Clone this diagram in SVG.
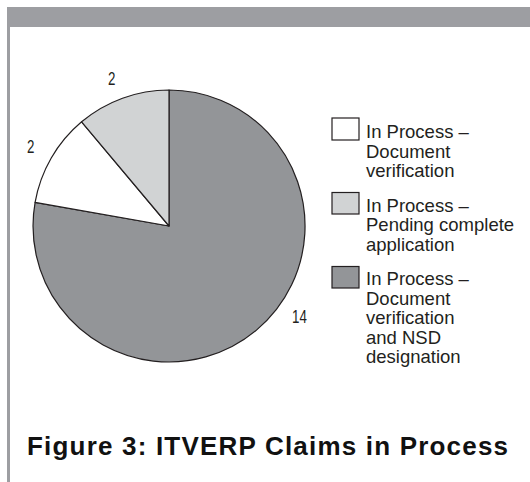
<svg xmlns="http://www.w3.org/2000/svg" width="530" height="482" viewBox="0 0 530 482">
  <style>
    .frame { fill: #9d9ea2; }
    .slice { stroke: #231f20; stroke-width: 1.2; stroke-linejoin: round; }
    .dark { fill: #939598; }
    .light { fill: #d1d3d4; }
    .white { fill: #ffffff; }
    .swatch { stroke: #231f20; stroke-width: 1.2; }
    .num { font-family: "Liberation Sans", Arial, sans-serif; font-size: 18.5px; fill: #231f20; }
    .leg { font-family: "Liberation Sans", Arial, sans-serif; font-size: 18.5px; fill: #231f20; }
    .title { font-family: "Liberation Sans", Arial, sans-serif; font-size: 26px; font-weight: bold; fill: #111111; }
  </style>
  <rect width="530" height="482" fill="#ffffff"/>

  <!-- page frame: heading band and left rule -->
  <rect class="frame" x="7" y="7" width="523" height="20"/>
  <rect class="frame" x="7" y="27" width="3" height="455" fill="#a7a9ac"/>

  <!-- pie chart: 14 / 2 / 2, starting at 12 o'clock, clockwise -->
  <g id="pie">
    <path class="slice dark" d="M169,226 L169,90 A136,136 0 1 1 35.1,202.4 Z"/>
    <path class="slice white" d="M169,226 L35.1,202.4 A136,136 0 0 1 81.6,121.8 Z"/>
    <path class="slice light" d="M169,226 L81.6,121.8 A136,136 0 0 1 169,90 Z"/>
  </g>

  <g id="values">
    <text class="num" transform="translate(108,85) scale(0.72,1)">2</text>
    <text class="num" transform="translate(27,152.5) scale(0.72,1)">2</text>
    <text class="num" transform="translate(292,322.5) scale(0.72,1)">14</text>
  </g>

  <g id="legend-verification">
    <rect class="swatch white" x="332" y="118" width="27" height="22"/>
    <text class="leg" x="366" y="138">In Process –</text>
    <text class="leg" x="366" y="157.5">Document</text>
    <text class="leg" x="366" y="177">verification</text>
  </g>

  <g id="legend-pending">
    <rect class="swatch light" x="332" y="192.5" width="27" height="21.5"/>
    <text class="leg" x="366" y="211.5">In Process –</text>
    <text class="leg" x="366" y="231">Pending complete</text>
    <text class="leg" x="366" y="250.5">application</text>
  </g>

  <g id="legend-nsd">
    <rect class="swatch dark" x="332" y="266.5" width="27" height="21.5"/>
    <text class="leg" x="366" y="285">In Process –</text>
    <text class="leg" x="366" y="304.5">Document</text>
    <text class="leg" x="366" y="324">verification</text>
    <text class="leg" x="366" y="343.5">and NSD</text>
    <text class="leg" x="366" y="363">designation</text>
  </g>

  <text class="title" x="27" y="455" textLength="481" lengthAdjust="spacing">Figure 3: ITVERP Claims in Process</text>
</svg>
